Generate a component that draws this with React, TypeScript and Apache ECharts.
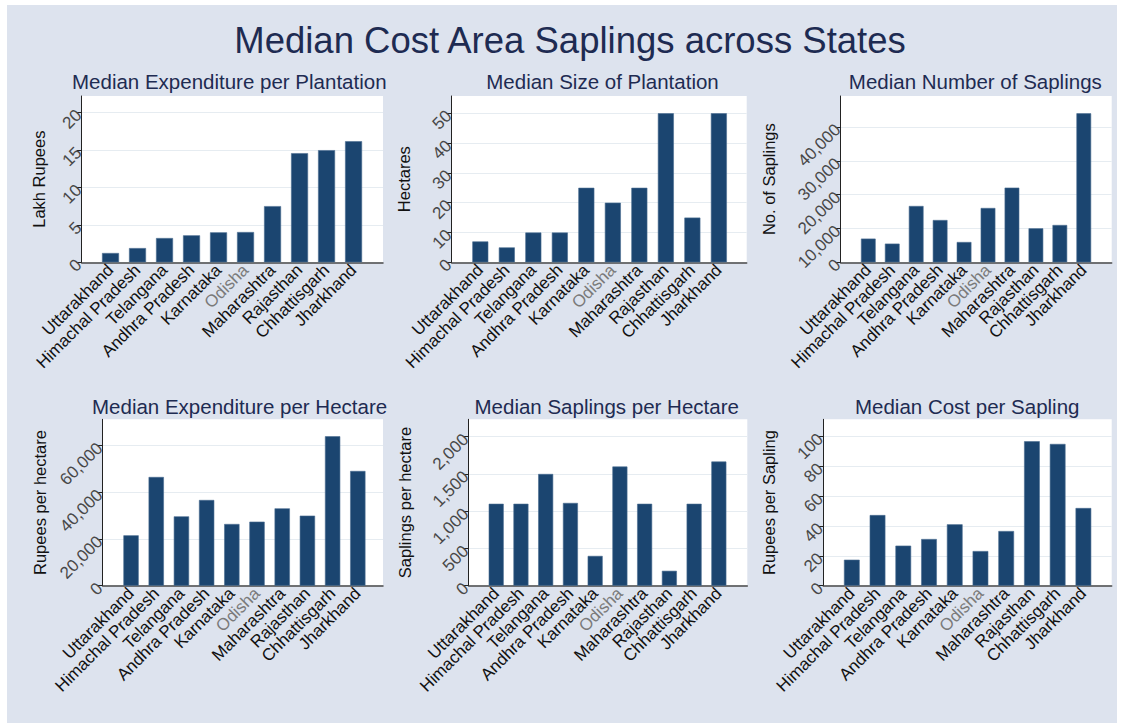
import { useEffect, useRef } from 'react';
import * as echarts from 'echarts';

const states = [
  'Uttarakhand',
  'Himachal Pradesh',
  'Telangana',
  'Andhra Pradesh',
  'Karnataka',
  'Odisha',
  'Maharashtra',
  'Rajasthan',
  'Chhattisgarh',
  'Jharkhand',
];

const expPerPlantation = [1.24, 1.9, 3.24, 3.6, 4.0, 4.04, 7.5, 14.57, 14.97, 16.17];
const sizeOfPlantation = [7, 5, 10, 10, 25, 20, 25, 50, 15, 50];
const numberOfSaplings = [7000, 5520, 16650, 12500, 6000, 16060, 22070, 10050, 11030, 44040];
const expPerHectare = [21570, 46570, 29710, 36710, 26430, 27430, 33140, 30000, 64000, 49140];
const saplingsPerHectare = [1100, 1100, 1500, 1111, 400, 1600, 1100, 200, 1100, 1667];
const costPerSapling = [17.4, 47.3, 26.8, 31.25, 41.1, 23.2, 36.6, 96.7, 94.9, 52.0];

const ticksExpPlant = [0, 5, 10, 15, 20];
const ticksSize = [0, 10, 20, 30, 40, 50];
const ticksSaplings = [0, 10000, 20000, 30000, 40000];
const ticksExpHect = [0, 20000, 40000, 60000];
const ticksSapHect = [0, 500, 1000, 1500, 2000];
const ticksCost = [0, 20, 40, 60, 80, 100];

const mainTitle = 'Median Cost Area Saplings across States';

const BG = '#dde3ee';
const BAR = '#1b4570';
const NAVY = '#1e2b52';
const FONT = '"Liberation Sans", Arial, Helvetica, sans-serif';

const panels = [
  { title: 'Median Expenditure per Plantation', yName: 'Lakh Rupees', data: expPerPlantation, ticks: ticksExpPlant, interval: 5, ymax: 22.2,
    l: 81.7, t: 96, r: 383, b: 262.3, xmin: -1.067, xmax: 10.09, barW: 17, nameGap: 34, tx: 72, ty: 81.5, tAlign: 'left' },
  { title: 'Median Size of Plantation', yName: 'Hectares', data: sizeOfPlantation, ticks: ticksSize, interval: 10, ymax: 55.8,
    l: 451.7, t: 96, r: 746.7, b: 262.3, xmin: -1.08, xmax: 10.05, barW: 16, nameGap: 39, tx: 602.5, ty: 81.5, tAlign: 'center' },
  { title: 'Median Number of Saplings', yName: 'No. of Saplings', data: numberOfSaplings, ticks: ticksSaplings, interval: 10000, ymax: 49160,
    l: 840.7, t: 96, r: 1111.7, b: 262.3, xmin: -1.153, xmax: 10.166, barW: 14.7, nameGap: 63, tx: 975.3, ty: 81.5, tAlign: 'center' },
  { title: 'Median Expenditure per Hectare', yName: 'Rupees per hectare', data: expPerHectare, ticks: ticksExpHect, interval: 20000, ymax: 71270,
    l: 102.7, t: 419.3, r: 383, b: 585.7, xmin: -1.125, xmax: 10.0, barW: 15.3, nameGap: 54.7, tx: 92, ty: 406, tAlign: 'left' },
  { title: 'Median Saplings per Hectare', yName: 'Saplings per hectare', data: saplingsPerHectare, ticks: ticksSapHect, interval: 500, ymax: 2234,
    l: 468.7, t: 419.3, r: 747.3, b: 585.7, xmin: -1.112, xmax: 10.15, barW: 15, nameGap: 55.7, tx: 606.7, ty: 406, tAlign: 'center' },
  { title: 'Median Cost per Sapling', yName: 'Rupees per Sapling', data: costPerSapling, ticks: ticksCost, interval: 20, ymax: 111.4,
    l: 823.3, t: 419.3, r: 1111.7, b: 585.7, xmin: -1.108, xmax: 10.1, barW: 15.7, nameGap: 46.3, tx: 967.2, ty: 406, tAlign: 'center' },
];

const fmtNum = (v: number) => Math.round(v).toLocaleString('en-US');
const catIdx = states.map((_, i) => i);

export default function App() {
  const ref = useRef<HTMLDivElement>(null);

  useEffect(() => {
    if (!ref.current) return;
    const chart = echarts.init(ref.current, undefined, { renderer: 'svg' });

    const grid = panels.map((p) => ({
      left: p.l,
      top: p.t,
      width: p.r - p.l,
      height: p.b - p.t,
      show: true,
      backgroundColor: '#ffffff',
      borderWidth: 0,
      containLabel: false,
    }));

    const xAxis = panels.map((p, k) => ({
      type: 'value',
      gridIndex: k,
      min: p.xmin,
      max: p.xmax,
      axisLine: { show: true, onZero: false, lineStyle: { color: '#4a4a4a', width: 1.5 } },
      axisTick: { show: false },
      splitLine: { show: false },
      axisLabel: {
        customValues: catIdx,
        rotate: 45,
        margin: 5,
        color: '#111111',
        fontFamily: FONT,
        fontSize: 17,
        formatter: (v: number) => {
          const i = Math.round(v);
          const n = states[i] ?? '';
          return i === 5 ? `{o|${n}}` : n;
        },
        rich: { o: { color: '#7a7a7a', fontFamily: FONT, fontSize: 17 } },
      },
    }));

    const yAxis = panels.map((p, k) => ({
      type: 'value',
      gridIndex: k,
      min: 0,
      max: p.ymax,
      interval: p.interval,
      name: p.yName,
      nameLocation: 'middle',
      nameGap: p.nameGap,
      nameRotate: 90,
      nameTextStyle: { color: '#111111', fontFamily: FONT, fontSize: 16.5 },
      axisLine: { show: true, onZero: false, lineStyle: { color: '#222222', width: 1 } },
      axisTick: { show: true, length: 5, customValues: p.ticks, lineStyle: { color: '#222222' } },
      splitLine: { show: true, lineStyle: { color: '#e6ecf1', width: 1 } },
      axisLabel: {
        customValues: p.ticks,
        rotate: 45,
        margin: 3,
        color: '#484848',
        fontFamily: FONT,
        fontSize: 17,
        formatter: (v: number) => fmtNum(v),
      },
    }));

    const series = panels.map((p, k) => ({
      type: 'bar',
      xAxisIndex: k,
      yAxisIndex: k,
      barWidth: p.barW,
      data: p.data.map((v, i) => [i, v]),
      itemStyle: { color: BAR, borderColor: '#4a6b90', borderWidth: 0.6 },
      silent: true,
    }));

    const titles: any[] = panels.map((p) => ({
      type: 'text',
      x: p.tx,
      y: p.ty,
      z: 100,
      silent: true,
      style: {
        text: p.title,
        fill: NAVY,
        font: `20.5px ${FONT}`,
        textAlign: p.tAlign,
        textVerticalAlign: 'middle',
      },
    }));

    chart.setOption({
      animation: false,
      backgroundColor: BG,
      grid,
      xAxis,
      yAxis,
      series,
      graphic: {
        elements: [
          { type: 'rect', shape: { x: 0, y: 0, width: 1121, height: 5 }, style: { fill: '#ffffff' }, silent: true },
          { type: 'rect', shape: { x: 0, y: 0, width: 7, height: 723 }, style: { fill: '#ffffff' }, silent: true },
          { type: 'rect', shape: { x: 1117, y: 0, width: 4, height: 723 }, style: { fill: '#ffffff' }, silent: true },
          {
            type: 'text',
            x: 570,
            y: 40,
            z: 100,
            silent: true,
            style: {
              text: mainTitle,
              fill: NAVY,
              font: `36.5px ${FONT}`,
              textAlign: 'center',
              textVerticalAlign: 'middle',
            },
          },
          ...titles,
        ],
      },
    });

    return () => chart.dispose();
  }, []);

  return (
    <div
      ref={ref}
      style={{ position: 'absolute', left: 0, top: 0, width: 1121, height: 723 }}
    />
  );
}
